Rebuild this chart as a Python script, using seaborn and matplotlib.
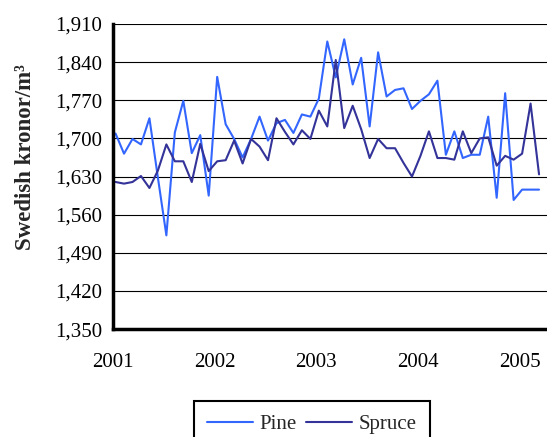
import numpy as np
import pandas as pd
import matplotlib
matplotlib.use("Agg")
import matplotlib.pyplot as plt
import seaborn as sns

# Monthly prices, Jan 2001 - Mar 2005 (SEK per m3)
pine = [1709, 1672, 1699, 1689, 1737, 1628, 1522, 1711, 1769, 1673, 1706, 1595,
        1813, 1726, 1699, 1665, 1699, 1740, 1696, 1728, 1734, 1710, 1744, 1740,
        1773, 1878, 1812, 1882, 1799, 1848, 1722, 1858, 1777, 1789, 1792, 1754,
        1769, 1781, 1806, 1670, 1713, 1664, 1670, 1670, 1740, 1591, 1783, 1587,
        1606, 1606, 1606]
spruce = [1620, 1617, 1620, 1631, 1609, 1641, 1689, 1658, 1658, 1620, 1690, 1640,
          1658, 1660, 1696, 1654, 1699, 1685, 1660, 1737, 1712, 1689, 1715, 1699,
          1751, 1722, 1844, 1719, 1760, 1717, 1664, 1699, 1682, 1682, 1655, 1630,
          1668, 1713, 1664, 1664, 1661, 1713, 1673, 1700, 1702, 1650, 1668, 1661,
          1672, 1764, 1634]
y_ticks = [1350, 1420, 1490, 1560, 1630, 1700, 1770, 1840, 1910]
years = [2001, 2002, 2003, 2004, 2005]

months = np.arange(len(pine))
dates = 2001 + (months + 0.3) / 12

df = pd.concat([
    pd.DataFrame({"date": dates, "price": pine, "species": "Pine"}),
    pd.DataFrame({"date": dates, "price": spruce, "species": "Spruce"}),
])

sns.set_theme(style="white")
plt.rcParams["font.family"] = ["Liberation Serif", "DejaVu Serif"]

fig = plt.figure(figsize=(5.47, 4.37), dpi=100)
ax = fig.add_axes([0.2066, 0.247, 0.7934, 0.698])

sns.lineplot(data=df, x="date", y="price", hue="species",
             palette={"Pine": "#3366FF", "Spruce": "#333399"},
             linewidth=1.5, ax=ax)

ax.set_ylim(1350, 1910)
ax.set_xlim(2001, 2005.27)
ax.set_yticks(y_ticks)
ax.set_yticklabels([f"{v:,}" for v in y_ticks])
half_years = np.arange(2001, 2005.01, 0.5)
ax.set_xticks(half_years)
ax.set_xticklabels([str(int(h)) if h in years else "" for h in half_years])
ax.grid(axis="y", color="black", linewidth=0.8)
ax.grid(axis="x", visible=False)
ax.set_axisbelow(True)

ax.tick_params(axis="both", direction="out", length=6, width=2,
               labelsize=15, colors="black")
ax.tick_params(axis="x", pad=11)
ax.tick_params(axis="y", pad=2)
for side in ["top", "right"]:
    ax.spines[side].set_visible(False)
for side in ["left", "bottom"]:
    ax.spines[side].set_color("black")
    ax.spines[side].set_linewidth(2.5)

ax.set_xlabel("")
ax.set_ylabel("Swedish kronor/m³", fontsize=16.5, fontweight="bold")
ax.yaxis.set_label_coords(-0.178, 0.564)

handles, labels = ax.get_legend_handles_labels()
ax.get_legend().remove()
leg = fig.legend(handles, labels, loc="upper center", bbox_to_anchor=(0.57, 0.082),
                 ncol=2, fontsize=15, frameon=True, fancybox=False,
                 edgecolor="black", framealpha=1, handlelength=2.2,
                 handletextpad=0.3, columnspacing=0.45, borderpad=0.65,
                 borderaxespad=0)
leg.get_frame().set_linewidth(1.5)

fig.savefig("out.png", dpi=100)
